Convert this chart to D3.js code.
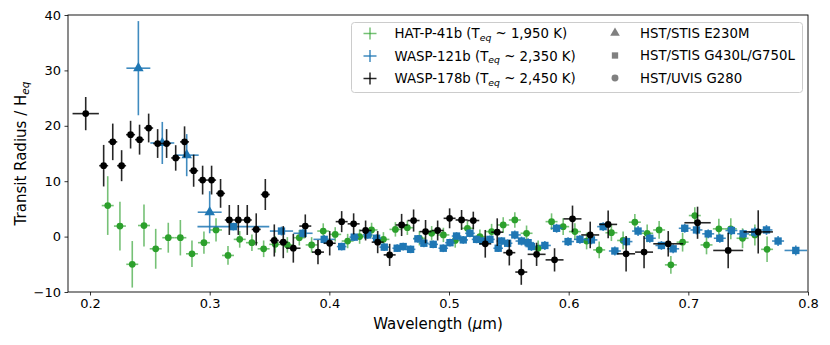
<!DOCTYPE html>
<html>
<head>
<meta charset="utf-8">
<script src="https://cdn.jsdelivr.net/npm/d3@7"></script>
<style>
body { margin: 0; background: #fff; }
text { font-family: "DejaVu Sans", sans-serif; }
</style>
</head>
<body>
<div id="chart"></div>
<script>
// HAT-P-41b (green)
const hatWave = [0.2148,0.225,0.2353,0.2451,0.2549,0.2654,0.2755,0.2852,0.2952,0.3053,0.3153,0.3251,0.3353,0.3451,0.3548,0.3649,0.3749,0.3852,
                 0.3949,0.4049,0.4153,0.4253,0.4353,0.4452,0.4552,0.4652,0.4753,0.4855,0.4953,0.5052,0.5154,0.5258,0.5356,0.5453,0.555,0.5648,
                 0.5745,0.5857,0.5954,0.6052,0.615,0.6255,0.6357,0.6455,0.6553,0.6656,0.6756,0.6854,0.6952,0.7054,0.7152,0.7255,0.7355,0.7453,0.7556,0.7658];
const hatVal = [5.6,1.9,-5.0,2.0,-2.2,-0.2,-0.2,-3.1,-1.1,1.2,-3.4,-0.5,-1.1,-2.2,-1.4,-1.5,-0.2,-1.5,
                1.0,0.4,-0.8,0.0,1.2,-0.5,1.3,1.6,-0.3,0.6,0.3,-0.7,1.5,0.0,0.9,2.1,3.0,0.6,
                -2.1,2.7,1.8,0.9,-0.8,-2.4,0.7,-0.7,2.6,0.6,1.2,-5.1,-1.0,3.8,-1.5,1.4,1.4,-0.3,0.3,-2.3];
const hatErr = [5.3,4.4,4.2,3.8,3.6,2.7,3.2,2.4,2.0,2.1,1.7,1.5,1.5,1.5,1.5,1.4,1.4,1.4,
                1.4,1.3,1.3,1.3,1.3,1.3,1.3,1.3,1.3,1.3,1.3,1.3,1.3,1.3,1.4,1.4,1.4,1.4,
                1.4,1.5,1.5,1.5,1.5,1.5,1.5,1.6,1.5,1.6,1.6,1.6,1.7,1.5,1.7,1.8,1.9,1.8,1.9,2.3];
const hatWaveErr = [0.005,0.005,0.005,0.005,0.005,0.005,0.005,0.005,0.005,0.005,0.005,0.005,0.005,0.005,0.005,0.005,0.005,0.005,
                    0.005,0.005,0.005,0.005,0.005,0.005,0.005,0.005,0.005,0.005,0.005,0.005,0.005,0.005,0.005,0.005,0.005,0.005,
                    0.005,0.005,0.005,0.005,0.005,0.005,0.005,0.005,0.005,0.005,0.005,0.005,0.005,0.005,0.005,0.005,0.005,0.005,0.005,0.005];

// WASP-121b (blue), STIS E230M triangles
const w121uvWave = [0.2404,0.2604,0.2808,0.3];
const w121uvVal = [30.4,16.9,14.7,4.4];
const w121uvErr = [8.5,3.8,3.8,3.8];
const w121uvWaveErr = [0.01,0.01,0.01,0.01];

// WASP-121b (blue), STIS G430L/G750L squares
const w121optWave = [0.3198,0.36,0.378,0.3957,0.4103,0.4208,0.432,0.4395,0.4459,0.4567,0.4617,0.4679,0.474,0.479,0.4868,0.4952,0.5008,0.5063,
                     0.5119,0.5175,0.523,0.5283,0.5342,0.5411,0.5439,0.549,0.555,0.5606,0.5661,0.5689,0.5801,0.5899,0.5995,0.6094,0.619,0.6288,
                     0.6386,0.6483,0.658,0.6678,0.6775,0.6873,0.697,0.7068,0.7166,0.7263,0.736,0.7458,0.7555,0.7653,0.775,0.7898];
const w121optVal = [1.8,1.0,0.6,-0.5,-1.8,-0.1,0.3,-0.3,-1.9,-2.1,-1.8,-2.3,-0.4,-1.2,-1.4,-2.1,-1.1,0.1,
                    -0.6,0.6,-0.5,-0.8,-0.5,-2.1,-0.8,-1.2,0.3,-0.8,-1.1,-1.8,-1.6,1.5,-0.9,-0.5,-0.6,1.8,
                    -2.6,-0.9,1.0,-0.3,-1.6,-2.2,1.5,1.2,0.5,-0.3,1.1,0.5,0.8,1.2,-0.8,-2.5];
const w121optErr = [0.7,0.8,0.8,0.8,0.7,0.7,0.7,0.7,0.7,0.7,0.7,0.7,0.7,0.7,0.7,0.7,0.7,0.7,
                    0.7,0.7,0.7,0.7,0.7,0.7,0.7,0.7,0.8,0.8,0.8,0.8,0.8,0.8,0.8,0.8,0.8,0.8,
                    0.8,0.8,0.9,0.8,0.8,0.8,0.8,0.8,0.8,0.8,0.8,0.8,0.9,0.9,0.9,0.9];
const w121optWaveErr = [0.03,0.0097,0.008,0.009,0.004,0.004,0.004,0.004,0.004,0.004,0.004,0.004,0.004,0.004,0.004,0.004,0.004,0.004,
                        0.004,0.004,0.004,0.004,0.004,0.004,0.004,0.004,0.005,0.005,0.005,0.005,0.005,0.005,0.005,0.005,0.005,0.005,
                        0.005,0.005,0.005,0.005,0.005,0.005,0.005,0.005,0.005,0.005,0.005,0.005,0.005,0.005,0.005,0.0094];

// WASP-178b (black), UVIS G280 circles
const w178Wave = [0.1964,0.2114,0.219,0.2264,0.2339,0.2414,0.249,0.2565,0.264,0.2716,0.279,0.2866,0.2941,0.3016,0.3091,0.3164,0.3239,0.3314,
                  0.3389,0.3465,0.354,0.3615,0.3699,0.3799,0.3905,0.4003,0.4103,0.4203,0.4303,0.4404,0.4504,0.4604,0.4704,0.4804,0.4905,0.5005,
                  0.5105,0.5203,0.5303,0.5403,0.5504,0.5604,0.5732,0.5882,0.6032,0.618,0.633,0.648,0.663,0.6832,0.7077,0.7333,0.7584];
const w178Val = [22.2,12.8,17.1,12.8,18.4,17.5,19.6,16.8,16.8,14.2,17.1,11.9,10.2,10.2,7.8,3.0,3.0,3.0,
                 1.3,7.6,-0.7,-1.0,-2.1,1.9,-2.8,-1.2,2.7,2.3,1.1,-1.0,-3.3,2.1,2.9,0.9,1.1,3.3,
                 3.0,2.9,-1.3,0.8,-2.9,-6.4,-3.2,-4.2,3.2,0.3,2.2,-3.1,-2.8,-1.3,2.5,-2.5,0.85];
const w178Err = [3.0,3.75,3.3,2.8,2.5,2.7,2.6,2.6,2.6,2.3,2.8,2.9,2.6,2.6,2.6,2.7,2.7,2.7,
                 2.9,2.8,2.9,2.9,2.6,2.1,2.2,2.2,1.9,1.9,1.8,2.0,2.0,2.0,2.0,2.1,1.8,1.8,
                 1.8,1.6,2.5,2.5,2.3,2.3,2.1,2.1,2.4,2.4,2.5,3.2,2.9,2.3,2.9,3.2,3.9];
const w178WaveErr = [0.011,0.00375,0.00375,0.00375,0.00375,0.00375,0.00375,0.00375,0.00375,0.00375,0.00375,0.00375,0.00375,0.00375,0.00375,0.00375,0.00375,0.00375,
                     0.00375,0.00375,0.00375,0.00375,0.006,0.005,0.005,0.005,0.005,0.005,0.005,0.005,0.005,0.005,0.005,0.005,0.005,0.005,
                     0.005,0.005,0.005,0.005,0.005,0.005,0.0075,0.0075,0.0075,0.0075,0.0075,0.0075,0.0075,0.0125,0.011,0.0125,0.0123];

const xTicks = [0.2,0.3,0.4,0.5,0.6,0.7,0.8];
const yTicks = [-10,0,10,20,30,40];

const planetLabels = [["HAT-P-41b (T", "eq", " ~ 1,950 K)"],
                      ["WASP-121b (T", "eq", " ~ 2,350 K)"],
                      ["WASP-178b (T", "eq", " ~ 2,450 K)"]];
const planetColors = ["#2ca02c", "#1f77b4", "#000000"];
const instrumentLabels = ["HST/STIS E230M", "HST/STIS G430L/G750L", "HST/UVIS G280"];

const width = 830;
const height = 345;
const margin = {top: 15, right: 22, bottom: 53, left: 68};
const innerW = width - margin.left - margin.right;
const innerH = height - margin.top - margin.bottom;

const svg = d3.select("#chart").append("svg")
              .attr("width", width)
              .attr("height", height);

svg.append("defs").append("clipPath").attr("id", "clip")
   .append("rect").attr("width", innerW).attr("height", innerH);

const x = d3.scaleLinear().domain([0.1816, 0.8]).range([0, innerW]);
const y = d3.scaleLinear().domain([-10, 40]).range([innerH, 0]);

const elementGroup = svg.append("g")
                        .attr("transform", `translate(${margin.left}, ${margin.top})`);
const dataGroup = elementGroup.append("g").attr("clip-path", "url(#clip)");

const symbols = {
    tri: d3.symbol().type(d3.symbolTriangle).size(48)(),
    sq: d3.symbol().type(d3.symbolSquare).size(54)(),
    circ: d3.symbol().type(d3.symbolCircle).size(36)()
};

function drawSeries(wave, val, err, werr, color, marker, barOpacity) {
    const rows = wave.map((w, i) => ({w: w, v: val[i], e: err[i], we: werr[i]}));
    const g = dataGroup.append("g");
    g.selectAll("line.h").data(rows).enter().append("line")
        .attr("x1", d => x(d.w - d.we)).attr("x2", d => x(d.w + d.we))
        .attr("y1", d => y(d.v)).attr("y2", d => y(d.v))
        .attr("stroke", color).attr("stroke-width", 1.6).attr("stroke-opacity", barOpacity);
    g.selectAll("line.v").data(rows).enter().append("line")
        .attr("x1", d => x(d.w)).attr("x2", d => x(d.w))
        .attr("y1", d => y(d.v - d.e)).attr("y2", d => y(d.v + d.e))
        .attr("stroke", color).attr("stroke-width", 1.6).attr("stroke-opacity", barOpacity);
    g.selectAll("path").data(rows).enter().append("path")
        .attr("d", symbols[marker])
        .attr("transform", d => `translate(${x(d.w)}, ${y(d.v)})`)
        .attr("fill", color);
}

drawSeries(hatWave, hatVal, hatErr, hatWaveErr, planetColors[0], "circ", 0.65);
drawSeries(w121uvWave, w121uvVal, w121uvErr, w121uvWaveErr, planetColors[1], "tri", 0.85);
drawSeries(w121optWave, w121optVal, w121optErr, w121optWaveErr, planetColors[1], "sq", 0.85);
drawSeries(w178Wave, w178Val, w178Err, w178WaveErr, planetColors[2], "circ", 0.85);

// axes
const xAxis = d3.axisBottom(x).tickValues(xTicks).tickSize(3.5).tickPadding(3.5)
                .tickFormat(d3.format(".1f"));
const yAxis = d3.axisLeft(y).tickValues(yTicks).tickSize(3.5).tickPadding(3.5)
                .tickFormat(d => d < 0 ? "\u2212" + Math.abs(d) : d);

const xAxisGroup = elementGroup.append("g").attr("transform", `translate(0, ${innerH})`).call(xAxis);
const yAxisGroup = elementGroup.append("g").call(yAxis);
[xAxisGroup, yAxisGroup].forEach(ax => {
    ax.select(".domain").remove();
    ax.selectAll("text").attr("font-size", 13).attr("fill", "#000")
      .attr("font-family", "DejaVu Sans, sans-serif");
    ax.selectAll("line").attr("stroke", "#000").attr("stroke-width", 0.8);
});

elementGroup.append("rect")
    .attr("width", innerW).attr("height", innerH)
    .attr("fill", "none").attr("stroke", "#000").attr("stroke-width", 0.9);

// axis labels
const yLabel = svg.append("text")
    .attr("transform", `translate(26, ${margin.top + innerH / 2}) rotate(-90)`)
    .attr("text-anchor", "middle").attr("font-size", 15);
yLabel.append("tspan").text("Transit Radius / H");
yLabel.append("tspan").attr("dy", 3).attr("font-size", 10.5).attr("font-style", "italic").text("eq");

const xLabel = svg.append("text")
    .attr("x", margin.left + innerW / 2).attr("y", 329)
    .attr("text-anchor", "middle").attr("font-size", 15);
xLabel.append("tspan").text("Wavelength (");
xLabel.append("tspan").attr("font-style", "italic").text("\u03bc");
xLabel.append("tspan").text("m)");

// legend
const legend = svg.append("g");
legend.append("rect")
    .attr("x", 351.5).attr("y", 22.5).attr("width", 451).attr("height", 70)
    .attr("rx", 3).attr("fill", "#fff").attr("fill-opacity", 0.8)
    .attr("stroke", "#cccccc").attr("stroke-width", 1);

const rowY = [33.5, 56, 78.5];
planetLabels.forEach((lab, i) => {
    const cy = rowY[i];
    const op = i === 0 ? 0.65 : 0.85;
    legend.append("line").attr("x1", 363.5).attr("x2", 376.5).attr("y1", cy).attr("y2", cy)
        .attr("stroke", planetColors[i]).attr("stroke-width", 1.5).attr("stroke-opacity", op);
    legend.append("line").attr("x1", 370).attr("x2", 370).attr("y1", cy - 6).attr("y2", cy + 6)
        .attr("stroke", planetColors[i]).attr("stroke-width", 1.5).attr("stroke-opacity", op);
    const t = legend.append("text").attr("x", 394.5).attr("y", cy + 4.6).attr("font-size", 13.3);
    t.append("tspan").text(lab[0]);
    t.append("tspan").attr("dy", 2.6).attr("font-size", 9.3).attr("font-style", "italic").text(lab[1]);
    t.append("tspan").attr("dy", -2.6).text(lab[2]);
});

const legendShapes = [d3.symbolTriangle, d3.symbolSquare, d3.symbolCircle];
const legendSizes = [40, 40, 38];
instrumentLabels.forEach((lab, i) => {
    const cy = rowY[i] - 0.5;
    legend.append("path").attr("d", d3.symbol().type(legendShapes[i]).size(legendSizes[i])())
        .attr("transform", `translate(615, ${cy})`).attr("fill", "#808080");
    legend.append("text").attr("x", 640).attr("y", cy + 4.6).attr("font-size", 13.3).text(lab);
});
</script>
</body>
</html>
